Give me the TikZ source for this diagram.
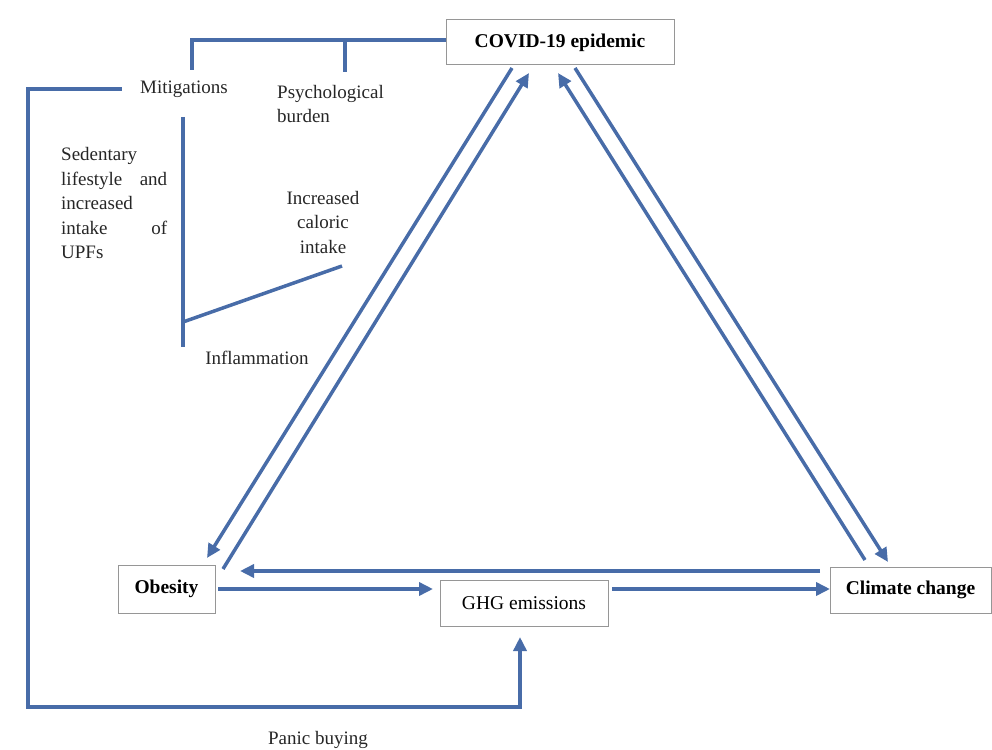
\documentclass[tikz,border=0pt]{standalone}
\usepackage{fontspec}
\setmainfont{Liberation Serif}
\usetikzlibrary{arrows.meta}
\definecolor{lineblue}{RGB}{72,108,168}
\definecolor{boxgray}{RGB}{150,150,150}
\tikzset{
  box/.style={draw=boxgray, line width=1pt, fill=white, inner sep=0pt, font=\fontsize{19.5}{24}\selectfont},
  lbl/.style={inner sep=0pt, font=\fontsize{19}{24.5}\selectfont, text=black!85},
  link/.style={draw=lineblue, line width=3.5pt},
  arr/.style={link, -{Triangle[length=14pt,width=13pt]}},
}
\begin{document}
\begin{tikzpicture}[x=1pt,y=-1pt]
\useasboundingbox (0,0) rectangle (992,749);
% boxes
\node[box, minimum width=228pt, minimum height=45pt] (covid) at (560,42.5) {\bfseries COVID-19 epidemic};
\node[box, minimum width=97pt, minimum height=48pt] (obesity) at (166.5,589) {\bfseries Obesity};
\node[box, minimum width=168pt, minimum height=46pt] (ghg) at (524,603) {GHG emissions};
\node[box, minimum width=161pt, minimum height=46pt] (climate) at (910.5,590) {\bfseries Climate change};
% labels
\node[lbl] (mitig) at (184,89) {Mitigations};
\node[lbl, anchor=west, align=left] (psych) at (277,104) {Psychological\\burden};
\node[lbl, anchor=west, align=left] (sedent) at (61,203) {Sedentary\\\makebox[106pt][s]{lifestyle\hfill and}\\increased\\\makebox[106pt][s]{intake\hfill of}\\UPFs};
\node[lbl, align=center] (caloric) at (323,222) {Increased\\caloric\\intake};
\node[lbl] (inflam) at (257,358) {Inflammation};
\node[lbl] (panic) at (318,740) {Panic buying};
% coordinates
\coordinate (mtop) at (192,70);
\coordinate (ptop) at (345,72);
\coordinate (pjoin) at (345,40);
\coordinate (vtop) at (183,117);
\coordinate (vbot) at (183,347);
\coordinate (vjoin) at (183,322);
\coordinate (cend) at (342,266);
\coordinate (lcorner) at (28,707);
\coordinate (gin) at (520,637);
\coordinate (a1) at (512,68);
\coordinate (a2) at (207,558);
\coordinate (b1) at (223,569);
\coordinate (b2) at (529,73);
\coordinate (c1) at (575,68);
\coordinate (c2) at (888,562);
\coordinate (d1) at (865,560);
\coordinate (d2) at (558,73);
\coordinate (e1) at (820,571);
\coordinate (e2) at (240,571);
\coordinate (f1) at (218,589);
\coordinate (f2) at (433,589);
\coordinate (g1) at (612,589);
\coordinate (g2) at (830,589);
% top bracket
\draw[link] ([yshift=2.5pt]covid.west) -- (pjoin) -| (mtop);
\draw[link] (pjoin) -- (ptop);
% mitigations branch
\draw[link] (vtop) -- (vbot);
\draw[link] (vjoin) -- (cend);
% panic buying loop
\draw[arr] ([xshift=-18pt]mitig.west) -| (lcorner) -| (gin);
% triangle
\draw[arr] (a1) -- (a2);
\draw[arr] (b1) -- (b2);
\draw[arr] (c1) -- (c2);
\draw[arr] (d1) -- (d2);
\draw[arr] (e1) -- (e2);
\draw[arr] (f1) -- (f2);
\draw[arr] (g1) -- (g2);
\end{tikzpicture}
\end{document}
